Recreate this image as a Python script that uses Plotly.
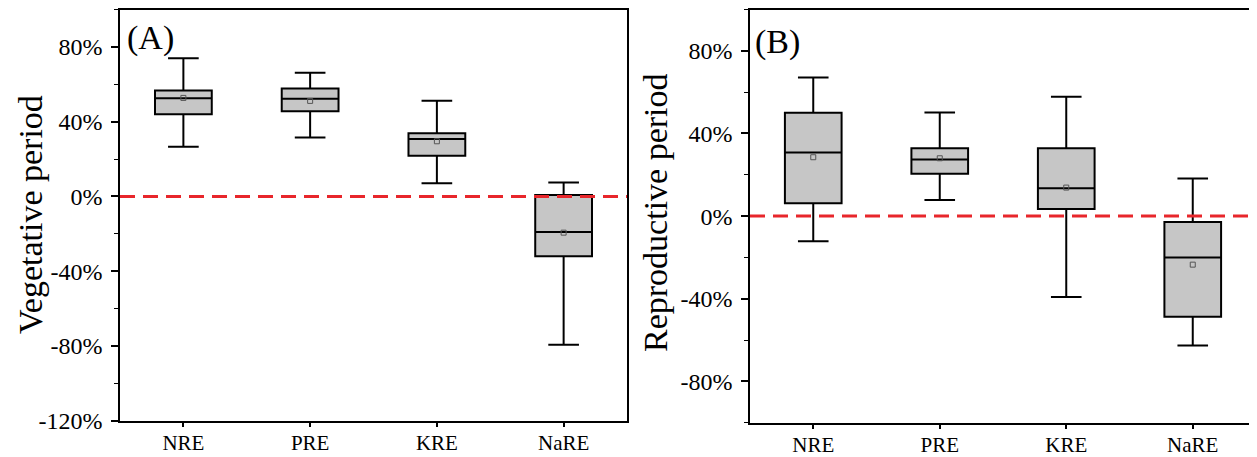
import plotly.graph_objects as go

categories = ["NRE", "PRE", "KRE", "NaRE"]

# Panel A: Vegetative period (%)
veg_lower = [26.6, 31.5, 7.0, -79.3]
veg_q1 = [44.0, 45.5, 21.8, -32.0]
veg_median = [52.5, 52.3, 30.7, -19.1]
veg_q3 = [56.6, 57.7, 33.8, 0.7]
veg_upper = [73.9, 66.2, 51.2, 7.4]
veg_mean = [52.7, 51.1, 29.5, -19.4]

# Panel B: Reproductive period (%)
rep_lower = [-12.2, 7.8, -39.1, -62.6]
rep_q1 = [6.2, 20.5, 3.4, -48.7]
rep_median = [30.8, 27.4, 13.5, -20.0]
rep_q3 = [50.0, 32.9, 32.9, -2.9]
rep_upper = [67.1, 50.2, 57.8, 18.2]
rep_mean = [28.5, 28.0, 13.8, -23.5]

veg_ticks = [-120, -80, -40, 0, 40, 80]
rep_ticks = [-80, -40, 0, 40, 80]

FONT = "Liberation Serif"
BOX_FILL = "#c6c6c6"
RED = "#e8262b"

# page body has an 8px default margin; size figure so it fits the window
OFF = 8
W, H = 1257 - OFF, 457 - OFF

def px_x(v):
    return (v - OFF) / W

def px_y(v):
    return 1 - (v - OFF) / H

fig = go.Figure()

def add_panel(xa, ya, lower, q1, med, q3, upper, mean):
    fig.add_trace(go.Box(
        x=categories, q1=q1, median=med, q3=q3,
        lowerfence=lower, upperfence=upper,
        fillcolor=BOX_FILL, line=dict(color="black", width=2),
        whiskerwidth=0.54, boxpoints=False, showlegend=False,
        xaxis=xa, yaxis=ya,
    ))
    fig.add_trace(go.Scatter(
        x=categories, y=mean, mode="markers",
        marker=dict(symbol="square-open", size=5, color="#555555",
                    line=dict(width=1, color="#555555")),
        showlegend=False, xaxis=xa, yaxis=ya,
    ))

add_panel("x", "y", veg_lower, veg_q1, veg_median, veg_q3, veg_upper, veg_mean)
add_panel("x2", "y2", rep_lower, rep_q1, rep_median, rep_q3, rep_upper, rep_mean)

x_common = dict(
    showline=True, linecolor="black", linewidth=1.5, mirror=True,
    showgrid=False, zeroline=False, ticks="outside", ticklen=5,
    tickwidth=1.5, tickcolor="black", automargin=False,
    ticklabelstandoff=-3,
    tickfont=dict(family=FONT, size=21, color="black"),
)
y_common = dict(x_common)
y_common["tickfont"] = dict(family=FONT, size=24, color="black")
y_common["ticklen"] = 7
y_common["ticklabelstandoff"] = 4

fig.update_layout(
    width=W, height=H,
    margin=dict(l=0, r=0, t=0, b=0),
    paper_bgcolor="white", plot_bgcolor="white",
    boxgap=0.36,
    xaxis=dict(domain=[px_x(120), px_x(627)], anchor="y", range=[-0.5, 3.5],
               type="category", **x_common),
    yaxis=dict(domain=[px_y(420.7), px_y(9.5)], anchor="x", range=[-120, 100],
               tickvals=veg_ticks, ticktext=[f"{v}%" for v in veg_ticks],
               minor=dict(dtick=20, ticks="outside", ticklen=4,
                          tickcolor="black", tickwidth=1.2),
               **y_common),
    xaxis2=dict(domain=[px_x(750), px_x(1256)], anchor="y2", range=[-0.5, 3.5],
                type="category", **x_common),
    yaxis2=dict(domain=[px_y(422.7), px_y(9.5)], anchor="x2", range=[-100, 100],
                tickvals=rep_ticks, ticktext=[f"{v}%" for v in rep_ticks],
                minor=dict(dtick=20, ticks="outside", ticklen=4,
                           tickcolor="black", tickwidth=1.2),
                **y_common),
    shapes=[
        dict(type="line", xref="x domain", yref="y", x0=0, x1=1, y0=0, y1=0,
             line=dict(color=RED, width=3, dash="15px,8px")),
        dict(type="line", xref="x2 domain", yref="y2", x0=0, x1=1, y0=0, y1=0,
             line=dict(color=RED, width=3, dash="15px,8px")),
    ],
    annotations=[
        dict(text="(A)", xref="x domain", yref="y domain", x=0.01, y=0.982,
             xanchor="left", yanchor="top", showarrow=False,
             font=dict(family=FONT, size=34, color="black")),
        dict(text="(B)", xref="x2 domain", yref="y2 domain", x=0.005, y=0.972,
             xanchor="left", yanchor="top", showarrow=False,
             font=dict(family=FONT, size=34, color="black")),
        dict(text="Vegetative period", xref="paper", yref="paper",
             x=px_x(30), y=px_y(215), textangle=-90, showarrow=False,
             xanchor="center", yanchor="middle",
             font=dict(family=FONT, size=34, color="black")),
        dict(text="Reproductive period", xref="paper", yref="paper",
             x=px_x(656), y=px_y(212), textangle=-90, showarrow=False,
             xanchor="center", yanchor="middle",
             font=dict(family=FONT, size=34, color="black")),
    ],
)

fig.write_html("out.html")
